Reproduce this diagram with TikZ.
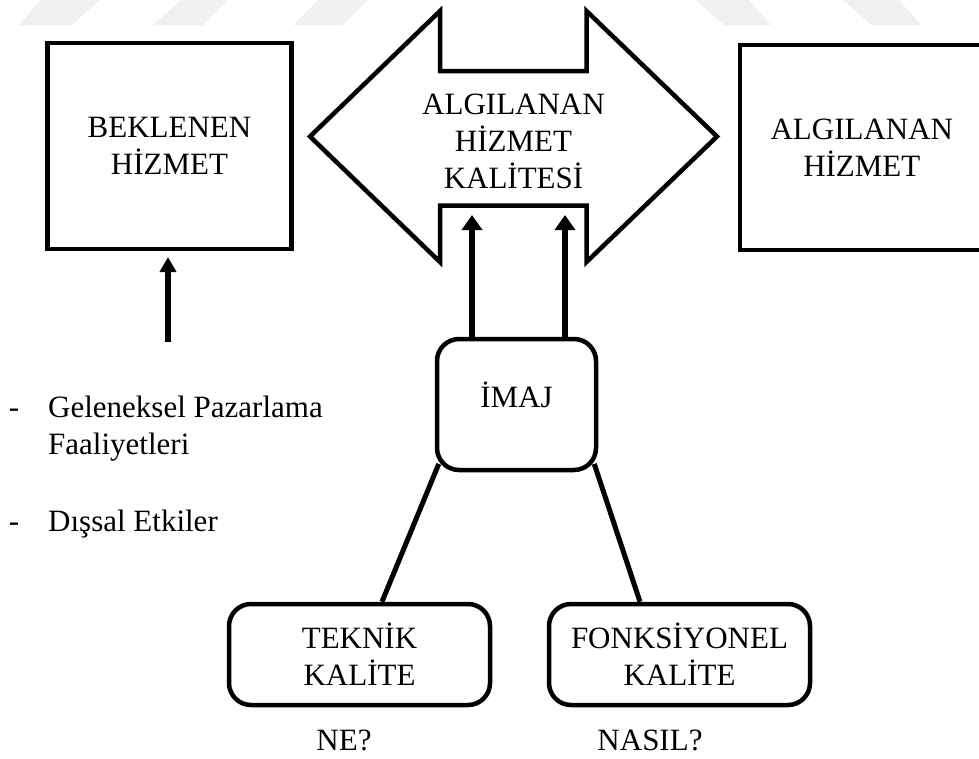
\documentclass[tikz,border=0pt]{standalone}
\usepackage{fontspec}
\setmainfont{Liberation Serif}
\usetikzlibrary{arrows.meta,calc,backgrounds}

\begin{document}
\begin{tikzpicture}[x=1pt,y=-1pt,
  every node/.style={font=\fontsize{31}{37}\selectfont,inner sep=0pt},
  outline/.style={draw=black,line width=4.5pt,fill=white},
  bigbox/.style={outline,minimum width=244pt,minimum height=206pt,align=center},
  roundbox/.style={outline,rounded corners=22pt,align=center},
  link/.style={line width=5pt},
  uparrow/.style={line width=5.5pt,-{Triangle[width=20pt,length=15pt]}},
  wmark/.style={fill=black!6}
]
\useasboundingbox (0,0) rectangle (979,758);
\clip (0,0) rectangle (979,758);

% faint stripes along the top edge
\fill[wmark] (41,0) -- (100,0) -- (72,25) -- (19,25) -- cycle;
\fill[wmark] (181,0) -- (228,0) -- (203,25) -- (153,25) -- cycle;
\fill[wmark] (318,0) -- (368,0) -- (343,25) -- (293,25) -- cycle;
\fill[wmark] (696,0) -- (749,0) -- (771,25) -- (724,25) -- cycle;
\fill[wmark] (843,0) -- (899,0) -- (921,25) -- (871,25) -- cycle;

% expected and perceived service
\node[bigbox] (expected) at (169.5,145.75) {BEKLENEN\\HİZMET};
\node[bigbox,minimum height=205pt] (perceived) at (861.8,147.7) {ALGILANAN\\HİZMET};

% double-headed arrow for perceived service quality
\draw[outline,line join=miter]
  (310,136.5) -- (440,11) -- (440,71) -- (586.5,71) -- (586.5,11)
  -- (717,136.5) -- (586.5,262) -- (586.5,205.5) -- (440,205.5)
  -- (440,262) -- cycle;
\node[align=center] (quality) at (513.5,141) {ALGILANAN\\HİZMET\\KALİTESİ};

% image and the two quality dimensions
\node[roundbox,minimum width=159pt,minimum height=131pt] (image) at (516.5,404.5)
  {\raisebox{-2.5pt}[0pt][0pt]{İMAJ}};
\node[roundbox,minimum width=261pt,minimum height=101pt] (technical) at (359.5,654.5)
  {TEKNİK\\KALİTE};
\node[roundbox,minimum width=261pt,minimum height=101pt] (functional) at (679.5,654.5)
  {FONKSİYONEL\\KALİTE};

\begin{scope}[on background layer]
  \draw[link] ($(image.216)+(4,0)$) -- ($(technical.north)+(22.5,0)$);
  \draw[link] ($(image.324)+(-4,0)$) -- ($(functional.north)+(-39.5,0)$);
\end{scope}

% arrows into the quality arrow
\coordinate (q1) at (472,215);
\coordinate (q2) at (565,215);
\draw[uparrow] (image.north -| q1) -- (q1);
\draw[uparrow] (image.north -| q2) -- (q2);

% arrow into expected service
\coordinate (tail) at (168,342);
\draw[line width=5.5pt,-{Triangle[width=16pt,length=15pt]}]
  (tail) -- ($(tail |- expected.south)+(0,6)$);

% influences on expectations
\node[anchor=base] (dash1) at (14,417) {-};
\node[anchor=base west] (trad1) at (48,417) {Geleneksel Pazarlama};
\node[anchor=base west] (trad2) at (48,454) {Faaliyetleri};
\node[anchor=base] (dash2) at (14,531) {-};
\node[anchor=base west] (ext) at (48,531) {Dışsal Etkiler};

% questions under the dimensions
\node[anchor=base] (what) at (344,750) {NE?};
\node[anchor=base] (how) at (650,750) {NASIL?};
\end{tikzpicture}
\end{document}
